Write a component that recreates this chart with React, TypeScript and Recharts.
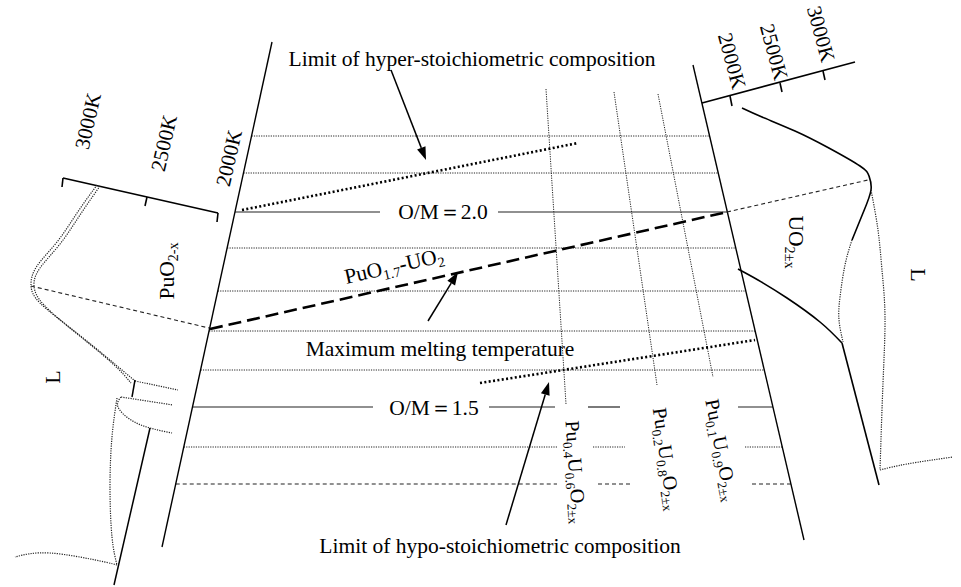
import React from "react";
import {
  ComposedChart,
  Line,
  XAxis,
  YAxis,
  ReferenceDot,
  ReferenceLine,
} from "recharts";

type Pt = { x: number; y: number };

const FONT = "'Liberation Serif', 'Times New Roman', serif";

// main composition axes (left = PuO2 side, right = UO2 side)
const leftAxis: Pt[] = [{ x: 272, y: 42 }, { x: 162, y: 547 }];
const rightAxis: Pt[] = [{ x: 693, y: 65 }, { x: 804, y: 540 }];

// isotherm rows between the two axes
const dottedRows = [136, 173, 248, 291, 331, 370];
const omRows = [
  { y: 212, gaps: [[380, 498]] },
  { y: 407, gaps: [[373, 489], [555, 588], [620, 738]] },
];
const lowerRows = [
  { y: 447, kind: "dot", gaps: [[558, 593], [625, 745]] },
  { y: 484, kind: "dash", gaps: [[557, 598], [630, 752]] },
];

// Pu/U composition lines
const compLines: Pt[][] = [
  [{ x: 546, y: 89 }, { x: 566, y: 404 }],
  [{ x: 614, y: 92 }, { x: 657, y: 385 }],
  [{ x: 658, y: 94 }, { x: 713, y: 377 }],
];

const hyperLimit: Pt[] = [{ x: 242, y: 210 }, { x: 578, y: 143 }];
const hypoLimit: Pt[] = [{ x: 480, y: 383 }, { x: 755, y: 340 }];
const maxMelt: Pt[] = [{ x: 210, y: 329 }, { x: 727, y: 212 }];

const arrows = [
  { from: { x: 391, y: 70 }, to: { x: 426, y: 160 } },
  { from: { x: 428, y: 321 }, to: { x: 458, y: 272 } },
  { from: { x: 506, y: 525 }, to: { x: 549, y: 382 } },
];

// temperature scale bars
const leftBar: Pt[] = [{ x: 63, y: 178 }, { x: 218, y: 213 }];
const leftTicks: Pt[][] = [
  [{ x: 63, y: 178 }, { x: 62, y: 187 }],
  [{ x: 147, y: 197 }, { x: 145, y: 206 }],
  [{ x: 218, y: 213 }, { x: 217, y: 222 }],
];
const rightBar: Pt[] = [{ x: 702, y: 103 }, { x: 855, y: 62 }];
const rightTicks: Pt[][] = [
  [{ x: 730, y: 96 }, { x: 732, y: 106 }],
  [{ x: 780, y: 83 }, { x: 782, y: 92 }],
  [{ x: 823, y: 71 }, { x: 825, y: 80 }],
];

// PuO2 side liquidus / solidus sketch
const leftOuterA: Pt[] = [
  { x: 97, y: 185 }, { x: 77, y: 213 }, { x: 57, y: 242 }, { x: 37, y: 266 },
  { x: 31, y: 285 }, { x: 40, y: 303 }, { x: 73, y: 330 }, { x: 110, y: 360 },
  { x: 135, y: 381 },
];
const leftOuterB: Pt[] = [
  { x: 100, y: 186 }, { x: 80, y: 215 }, { x: 60, y: 244 }, { x: 40, y: 268 },
  { x: 34, y: 286 }, { x: 44, y: 305 }, { x: 76, y: 333 }, { x: 112, y: 363 },
  { x: 131, y: 383 },
];
const leftStubA: Pt[] = [{ x: 135, y: 381 }, { x: 178, y: 390 }];
const leftStubB: Pt[] = [{ x: 121, y: 397 }, { x: 173, y: 405 }];
const leftLobe: Pt[] = [
  { x: 121, y: 397 }, { x: 118, y: 407 }, { x: 131, y: 420 }, { x: 150, y: 428 },
  { x: 172, y: 433 },
];
const leftShort: Pt[] = [{ x: 135, y: 380 }, { x: 132, y: 397 }];
const leftDrop: Pt[] = [
  { x: 117, y: 398 }, { x: 112, y: 437 }, { x: 110, y: 487 }, { x: 112, y: 537 },
  { x: 117, y: 565 },
];
const leftFoot: Pt[] = [
  { x: 117, y: 565 }, { x: 100, y: 561 }, { x: 50, y: 553 }, { x: 15, y: 557 },
];
const leftSolid: Pt[] = [{ x: 150, y: 428 }, { x: 114, y: 585 }];
const leftDashed: Pt[] = [{ x: 31, y: 286 }, { x: 209, y: 328 }];

// UO2 side sketch
const rightUpper: Pt[] = [
  { x: 742, y: 108 }, { x: 762, y: 117 }, { x: 795, y: 131 }, { x: 827, y: 147 },
  { x: 860, y: 166 }, { x: 869, y: 176 }, { x: 871, y: 190 }, { x: 863, y: 213 },
  { x: 852, y: 240 },
];
const rightLower: Pt[] = [
  { x: 738, y: 269 }, { x: 758, y: 280 }, { x: 787, y: 298 }, { x: 820, y: 322 },
  { x: 842, y: 343 },
];
const rightDrop: Pt[] = [{ x: 842, y: 343 }, { x: 879, y: 485 }];
const rightInner: Pt[] = [
  { x: 852, y: 240 }, { x: 845, y: 265 }, { x: 840, y: 297 }, { x: 839, y: 320 },
  { x: 843, y: 342 },
];
const rightOuter: Pt[] = [
  { x: 871, y: 190 }, { x: 878, y: 230 }, { x: 882, y: 270 }, { x: 885, y: 317 },
  { x: 883, y: 383 }, { x: 880, y: 470 },
];
const rightFoot: Pt[] = [{ x: 880, y: 470 }, { x: 907, y: 464 }, { x: 953, y: 457 }];
const rightDashed: Pt[] = [{ x: 727, y: 212 }, { x: 868, y: 180 }];

// labels: parts are [text, isSub]
type Part = [string, boolean];
const labels: { x: number; y: number; size: number; rot: number; parts: Part[] }[] = [
  { x: 472, y: 59, size: 21.5, rot: 0, parts: [["Limit of hyper-stoichiometric composition", false]] },
  { x: 440, y: 349, size: 21.5, rot: 0, parts: [["Maximum melting temperature", false]] },
  { x: 500, y: 546, size: 21.5, rot: 0, parts: [["Limit of hypo-stoichiometric composition", false]] },
  { x: 443, y: 212, size: 21.5, rot: 0, parts: [["O/M＝2.0", false]] },
  { x: 434, y: 408, size: 21.5, rot: 0, parts: [["O/M＝1.5", false]] },
  { x: 394, y: 266, size: 21.5, rot: -12.7, parts: [["PuO", false], ["1.7", true], ["-UO", false], ["2", true]] },
  { x: 167, y: 271, size: 21.5, rot: -90, parts: [["PuO", false], ["2-x", true]] },
  { x: 796, y: 242, size: 21.5, rot: 90, parts: [["UO", false], ["2±x", true]] },
  { x: 52, y: 377, size: 22, rot: -90, parts: [["L", false]] },
  { x: 919, y: 275, size: 22, rot: 90, parts: [["L", false]] },
  { x: 88, y: 121, size: 21, rot: -77, parts: [["3000K", false]] },
  { x: 164, y: 143, size: 21, rot: -77, parts: [["2500K", false]] },
  { x: 229, y: 158, size: 21, rot: -77, parts: [["2000K", false]] },
  { x: 732, y: 61, size: 21, rot: 75, parts: [["2000K", false]] },
  { x: 774, y: 52, size: 21, rot: 75, parts: [["2500K", false]] },
  { x: 821, y: 34, size: 21, rot: 75, parts: [["3000K", false]] },
  { x: 576, y: 472, size: 20, rot: 86, parts: [["Pu", false], ["0.4", true], ["U", false], ["0.6", true], ["O", false], ["2±x", true]] },
  { x: 667, y: 459, size: 20, rot: 82, parts: [["Pu", false], ["0.2", true], ["U", false], ["0.8", true], ["O", false], ["2±x", true]] },
  { x: 722, y: 450, size: 20, rot: 79, parts: [["Pu", false], ["0.1", true], ["U", false], ["0.9", true], ["O", false], ["2±x", true]] },
];

const xOn = (axis: Pt[], y: number) =>
  axis[0].x + ((axis[1].x - axis[0].x) * (y - axis[0].y)) / (axis[1].y - axis[0].y);

function rowSegments(y: number, gaps: number[][]): Pt[][] {
  const out: Pt[][] = [];
  let start = xOn(leftAxis, y);
  gaps.forEach(([a, b]) => {
    out.push([{ x: start, y }, { x: a, y }]);
    start = b;
  });
  out.push([{ x: start, y }, { x: xOn(rightAxis, y), y }]);
  return out;
}

const DOT = "1.2 1.2";

function Annot(props: any) {
  const { cx, cy, item } = props;
  const sub = item.size * 0.66;
  let inSub = false;
  return (
    <text
      x={cx}
      y={cy}
      transform={`rotate(${item.rot} ${cx} ${cy})`}
      textAnchor="middle"
      dominantBaseline="central"
      fontFamily={FONT}
      style={{ fontFamily: FONT }}
      fontSize={item.size}
      fill="#000"
    >
      {item.parts.map(([t, s]: Part, i: number) => {
        let dy = 0;
        if (s && !inSub) dy = item.size * 0.3;
        if (!s && inSub) dy = -item.size * 0.3;
        inSub = s;
        return (
          <tspan key={i} dy={dy} fontSize={s ? sub : item.size}>
            {t}
          </tspan>
        );
      })}
    </text>
  );
}

function Arrow(props: any) {
  const { x1, y1, x2, y2 } = props;
  const a = Math.atan2(y2 - y1, x2 - x1);
  const L = 13;
  const W = 4.5;
  const bx = x2 - L * Math.cos(a);
  const by = y2 - L * Math.sin(a);
  const px = -Math.sin(a) * W;
  const py = Math.cos(a) * W;
  return (
    <g>
      <line x1={x1} y1={y1} x2={bx} y2={by} stroke="#000" strokeWidth={1.5} />
      <polygon
        points={`${x2},${y2} ${bx + px},${by + py} ${bx - px},${by - py}`}
        fill="#000"
      />
    </g>
  );
}

export default function App() {
  let k = 0;
  const path = (pts: Pt[], stroke: string, width: number, dash?: string, curve = "linear") => (
    <Line
      key={`p${k++}`}
      data={pts}
      dataKey="y"
      type={curve as any}
      stroke={stroke}
      strokeWidth={width}
      strokeDasharray={dash}
      dot={false}
      activeDot={false}
      legendType="none"
      isAnimationActive={false}
    />
  );

  return (
    <div style={{ position: "absolute", left: 0, top: 0, background: "#fff" }}>
      <ComposedChart width={961} height={587} margin={{ top: 0, right: 0, bottom: 0, left: 0 }}>
        <XAxis type="number" dataKey="x" domain={[0, 961]} hide allowDataOverflow />
        <YAxis type="number" domain={[0, 587]} reversed hide allowDataOverflow />

        {dottedRows.map((y) =>
          path([{ x: xOn(leftAxis, y), y }, { x: xOn(rightAxis, y), y }], "#222", 1, DOT)
        )}
        {omRows.flatMap((r) => rowSegments(r.y, r.gaps).map((s) => path(s, "#222", 1.2)))}
        {lowerRows.flatMap((r) =>
          rowSegments(r.y, r.gaps).map((s) =>
            path(s, "#222", 1.1, r.kind === "dot" ? DOT : "4 3")
          )
        )}
        {compLines.map((l) => path(l, "#222", 1, DOT))}

        {path(leftAxis, "#000", 1.4)}
        {path(rightAxis, "#000", 1.4)}

        {path(hyperLimit, "#000", 2.6, "2 2.4")}
        {path(hypoLimit, "#000", 2.6, "2 2.4")}
        {path(maxMelt, "#000", 2.6, "13 6")}

        {path(leftBar, "#000", 1.6)}
        {leftTicks.map((t) => path(t, "#000", 1.6))}
        {path(rightBar, "#000", 1.6)}
        {rightTicks.map((t) => path(t, "#000", 1.6))}

        {path(leftOuterA, "#222", 1.2, DOT, "natural")}
        {path(leftOuterB, "#222", 1.2, DOT, "natural")}
        {path(leftStubA, "#222", 1.2, DOT)}
        {path(leftStubB, "#222", 1.2, DOT)}
        {path(leftLobe, "#222", 1.2, DOT, "natural")}
        {path(leftDrop, "#222", 1.2, DOT, "natural")}
        {path(leftFoot, "#222", 1.2, DOT, "natural")}
        {path(leftShort, "#000", 1.5)}
        {path(leftSolid, "#000", 1.5)}
        {path(leftDashed, "#222", 1.1, "4 3")}

        {path(rightUpper, "#000", 1.6, undefined, "natural")}
        {path(rightLower, "#000", 1.6, undefined, "natural")}
        {path(rightDrop, "#000", 1.6)}
        {path(rightInner, "#222", 1.2, DOT, "natural")}
        {path(rightOuter, "#222", 1.2, DOT, "natural")}
        {path(rightFoot, "#222", 1.2, DOT, "natural")}
        {path(rightDashed, "#222", 1.1, "4 3")}

        {arrows.map((a, i) => (
          <ReferenceLine
            key={`a${i}`}
            segment={[a.from, a.to]}
            ifOverflow="visible"
            shape={(p: any) => <Arrow {...p} />}
          />
        ))}

        {labels.map((t, i) => (
          <ReferenceDot
            key={`t${i}`}
            x={t.x}
            y={t.y}
            r={0}
            ifOverflow="visible"
            shape={(p: any) => <Annot {...p} item={t} />}
          />
        ))}
      </ComposedChart>
    </div>
  );
}
